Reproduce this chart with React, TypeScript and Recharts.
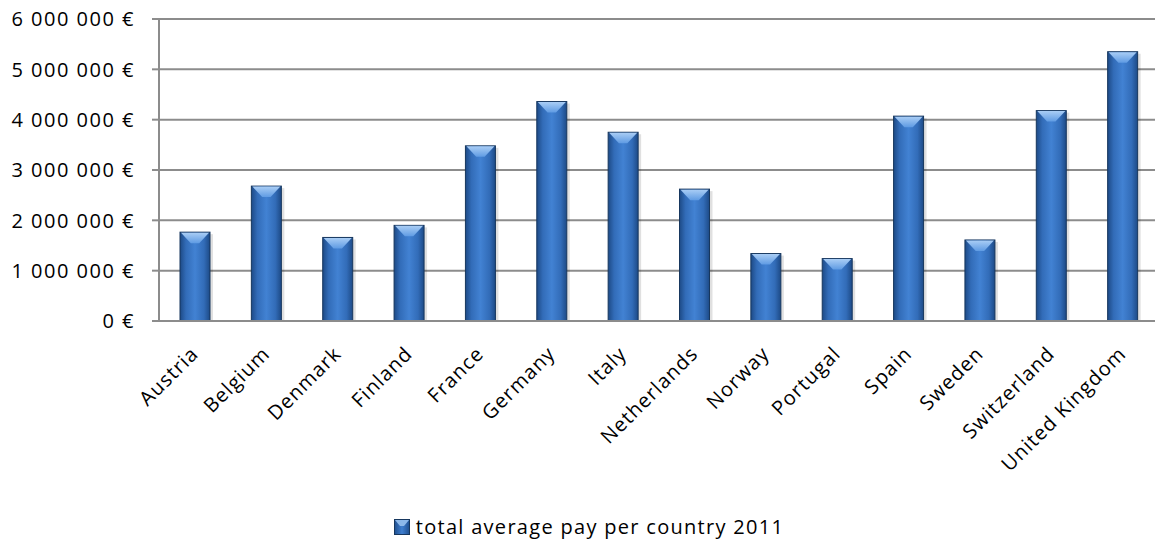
import { BarChart, Bar, XAxis, YAxis, CartesianGrid, Legend } from "recharts";

const countries = [
  "Austria",
  "Belgium",
  "Denmark",
  "Finland",
  "France",
  "Germany",
  "Italy",
  "Netherlands",
  "Norway",
  "Portugal",
  "Spain",
  "Sweden",
  "Switzerland",
  "United Kingdom",
];

const totalPay = [
  1765000, 2680000, 1660000, 1900000, 3480000, 4360000, 3750000,
  2620000, 1340000, 1240000, 4070000, 1610000, 4180000, 5350000,
];

const yTicks = [0, 1000000, 2000000, 3000000, 4000000, 5000000, 6000000];

const seriesName = "total average pay per country 2011";

const data = countries.map((country, i) => ({ country, pay: totalPay[i], idx: i }));
const edgeTicks = countries.map((_, i) => i).concat(countries.length);

const FONT = "'Open Sans', 'Noto Sans', sans-serif";
const FS = 20;
const LS = 1.1;
const GRID = "#8c8c8c";

const fmtEuro = (v: number) =>
  String(v).replace(/\B(?=(\d{3})+(?!\d))/g, " ") + " €";

const BevelBar = (props: any) => {
  const { x, y, width, height } = props;
  if (!height || height <= 0) return null;
  const bev = Math.min(11, height);
  return (
    <g>
      <rect x={x + 3} y={y + 2} width={width} height={height - 1} fill="#000" opacity={0.12} />
      <rect
        x={x}
        y={y}
        width={width}
        height={height}
        fill="url(#barGrad)"
        stroke="#17375e"
        strokeWidth={1}
      />
      <polygon
        points={`${x + 1},${y + 0.5} ${x + width - 1},${y + 0.5} ${x + width * 0.64},${y + bev} ${x + width * 0.36},${y + bev}`}
        fill="url(#bevGrad)"
      />
    </g>
  );
};

const CountryTick = (props: any) => {
  const { x, y, payload } = props;
  const tx = x + 5;
  const ty = y + 26;
  return (
    <text
      x={tx}
      y={ty}
      textAnchor="end"
      fontFamily={FONT}
      fontSize={FS}
      letterSpacing={LS}
      fill="#000"
      transform={`rotate(-45 ${tx} ${ty})`}
    >
      {payload.value}
    </text>
  );
};

const EuroTick = (props: any) => {
  const { x, y, payload } = props;
  return (
    <text
      x={x}
      y={y}
      dy="0.36em"
      textAnchor="end"
      fontFamily={FONT}
      fontSize={FS}
      letterSpacing={1.5}
      fill="#000"
    >
      {fmtEuro(payload.value)}
    </text>
  );
};

const LegendBox = () => (
  <div
    style={{
      display: "flex",
      justifyContent: "center",
      alignItems: "center",
      fontFamily: FONT,
      fontSize: FS,
      letterSpacing: 1.3,
      color: "#000",
      paddingTop: 4,
      paddingLeft: 20,
    }}
  >
    <svg width={16} height={16} style={{ marginRight: 6 }}>
      <defs>
        <linearGradient id="legGrad" x1="0" y1="0" x2="1" y2="0">
          <stop offset="0%" stopColor="#1f4f8f" />
          <stop offset="50%" stopColor="#3f7fd0" />
          <stop offset="100%" stopColor="#1f4f8f" />
        </linearGradient>
      </defs>
      <rect x={0.5} y={0.5} width={15} height={15} fill="url(#legGrad)" stroke="#17375e" />
      <polygon points="1,1 15,1 10,7 6,7" fill="#8cb8ea" />
    </svg>
    <span>{seriesName}</span>
  </div>
);

export default function App() {
  return (
    <div style={{ width: 1155, height: 539, overflow: "hidden" }}>
      <style>{"body{margin:0}"}</style>
      <BarChart
        width={1158}
        height={539}
        data={data}
        margin={{ top: 19, right: 0, left: 0, bottom: 0 }}
      >
        <defs>
          <linearGradient id="barGrad" x1="0" y1="0" x2="1" y2="0">
            <stop offset="0%" stopColor="#1d4a86" />
            <stop offset="20%" stopColor="#326cb8" />
            <stop offset="50%" stopColor="#4282d3" />
            <stop offset="80%" stopColor="#326cb8" />
            <stop offset="100%" stopColor="#1d4a86" />
          </linearGradient>
          <linearGradient id="bevGrad" x1="0" y1="0" x2="0" y2="1">
            <stop offset="0%" stopColor="#a9cdf5" />
            <stop offset="100%" stopColor="#5f9be3" />
          </linearGradient>
        </defs>
        <CartesianGrid vertical={false} stroke={GRID} strokeWidth={2} />
        <XAxis
          xAxisId="edges"
          type="number"
          dataKey="idx"
          domain={[0, countries.length]}
          ticks={edgeTicks}
          tick={false}
          tickSize={8}
          tickLine={{ stroke: GRID, strokeWidth: 2 }}
          axisLine={false}
          height={0}
        />
        <XAxis
          dataKey="country"
          interval={0}
          tick={<CountryTick />}
          tickLine={false}
          axisLine={{ stroke: GRID, strokeWidth: 2 }}
          height={188}
        />
        <YAxis
          domain={[0, 6000000]}
          ticks={yTicks}
          width={159}
          tickSize={7}
          tickMargin={17}
          tickLine={{ stroke: GRID, strokeWidth: 2 }}
          axisLine={{ stroke: GRID, strokeWidth: 2 }}
          tick={<EuroTick />}
        />
        <Legend height={30} verticalAlign="bottom" content={<LegendBox />} />
        <Bar
          dataKey="pay"
          name={seriesName}
          barSize={30}
          shape={<BevelBar />}
          isAnimationActive={false}
        />
      </BarChart>
    </div>
  );
}
